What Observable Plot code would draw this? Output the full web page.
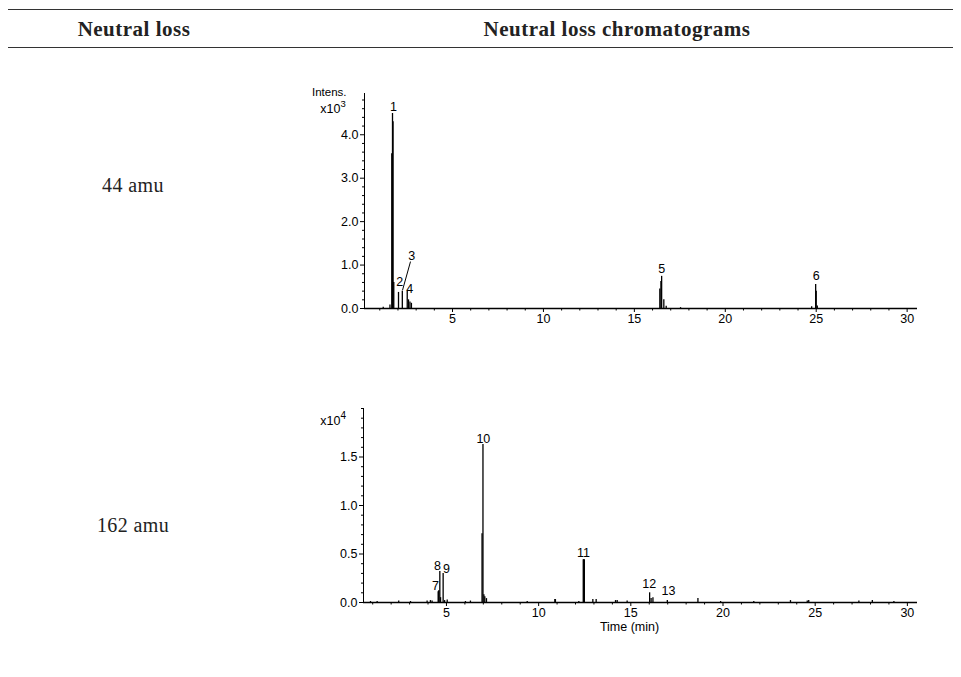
<!DOCTYPE html>
<html><head><meta charset="utf-8">
<script src="https://cdn.jsdelivr.net/npm/d3@7"></script>
<script src="https://cdn.jsdelivr.net/npm/@observablehq/plot@0.6"></script>
<style>
body{margin:0;background:#fff;width:961px;height:677px;position:relative;overflow:hidden;font-family:"Liberation Serif",serif;color:#222}
.rule{position:absolute;left:8px;width:945px;height:0;border-top:1.6px solid #333}
.hdr{position:absolute;font-weight:bold;font-size:21px;letter-spacing:0.5px;transform:translate(-50%,-50%);white-space:nowrap;line-height:1}
.row{position:absolute;font-size:20px;letter-spacing:0.4px;transform:translate(-50%,-50%);white-space:nowrap;line-height:1}
.chart{position:absolute;left:300px}
</style></head><body>
<div class="rule" style="top:9px"></div>
<div class="rule" style="top:46.5px"></div>
<div id="h0" class="hdr" style="left:134px;top:29px"></div>
<div id="h1" class="hdr" style="left:617px;top:29px"></div>
<div id="r0" class="row" style="left:133px;top:185px"></div>
<div id="r1" class="row" style="left:133px;top:525px"></div>
<div id="c0" class="chart" style="top:80px"></div>
<div id="c1" class="chart" style="top:395px"></div>
<script>
// ---------- text ----------
const headers = ["Neutral loss", "Neutral loss chromatograms"];
const rowLabels = ["44 amu", "162 amu"];

// ---------- 44 amu chromatogram (intensity x10^3) ----------
const time44 = [1.19, 1.56, 1.66, 1.70, 1.73, 1.77, 2.03, 2.24, 2.51, 2.58, 2.66, 2.74,
                16.40, 16.46, 16.50, 16.62, 16.75, 17.54, 24.75, 24.97, 25.00, 25.06];
const int44  = [0.03, 0.08, 3.56, 4.49, 4.30, 0.60, 0.37, 0.40, 0.40, 0.20, 0.15, 0.12,
                0.45, 0.62, 0.74, 0.20, 0.05, 0.02, 0.04, 0.55, 0.40, 0.06];
const labels44 = ["1", "2", "3", "4", "5", "6"];
const labelTime44 = [1.75, 2.09, 2.75, 2.64, 16.5, 25.0];
const labelInt44  = [4.65, 0.62, 1.20, 0.46, 0.92, 0.74];
const leaderTime44 = [2.25, 2.69];
const leaderInt44  = [0.42, 1.08];
const yMajor44 = [0, 1, 2, 3, 4];
const yMinor44 = [0.2, 0.4, 0.6, 0.8, 1.2, 1.4, 1.6, 1.8, 2.2, 2.4, 2.6, 2.8, 3.2, 3.4, 3.6, 3.8, 4.2, 4.4, 4.6, 4.8];

// ---------- 162 amu chromatogram (intensity x10^4) ----------
const time162 = [0.88, 1.24, 2.41, 3.05, 3.95, 4.13, 4.22, 4.55, 4.58, 4.64, 4.68, 4.82, 4.90, 5.04,
                 6.03, 6.30, 6.93, 6.98, 7.03, 7.08, 7.17, 9.38, 10.88, 10.91, 12.18, 12.42, 12.45, 12.48,
                 12.94, 13.12, 14.17, 14.26, 14.80, 16.02, 16.10, 16.20, 16.98, 18.64, 19.87, 21.67,
                 23.66, 24.57, 24.65, 27.37, 28.10, 29.27];
const int162  = [0.01, 0.01, 0.015, 0.01, 0.015, 0.02, 0.015, 0.11, 0.12, 0.32, 0.05, 0.30, 0.02, 0.025,
                 0.01, 0.015, 0.71, 1.63, 0.08, 0.06, 0.04, 0.01, 0.03, 0.03, 0.01, 0.44, 0.44, 0.44,
                 0.03, 0.03, 0.02, 0.02, 0.015, 0.10, 0.04, 0.05, 0.02, 0.04, 0.01, 0.01,
                 0.02, 0.015, 0.02, 0.015, 0.02, 0.01];
const labels162 = ["7", "8", "9", "10", "11", "12", "13"];
const labelTime162 = [4.40, 4.51, 5.00, 7.00, 12.43, 16.00, 17.04];
const labelInt162  = [0.17, 0.38, 0.35, 1.69, 0.51, 0.19, 0.12];
const yMajor162 = [0, 0.5, 1.0, 1.5];
const yMinor162 = [0.1, 0.2, 0.3, 0.4, 0.6, 0.7, 0.8, 0.9, 1.1, 1.2, 1.3, 1.4, 1.6, 1.7, 1.8, 1.9, 2.0];

// ---------- shared x ticks ----------
const xMajor = [5, 10, 15, 20, 25, 30];
const xMinor = [1, 2, 3, 4, 6, 7, 8, 9, 11, 12, 13, 14, 16, 17, 18, 19, 21, 22, 23, 24, 26, 27, 28, 29];

document.getElementById("h0").textContent = headers[0];
document.getElementById("h1").textContent = headers[1];
document.getElementById("r0").textContent = rowLabels[0];
document.getElementById("r1").textContent = rowLabels[1];

const fmt = d3.format(".1f");

function chromatogram(o) {
  const peaks = o.time.map((t, i) => ({t, h: o.inten[i]}));
  const labs = o.labels.map((s, i) => ({s, t: o.lt[i], h: o.li[i]}));
  const marks = [
    Plot.ruleY([0], {stroke: "#000", strokeWidth: 1.3}),
    Plot.ruleX([o.xDomain[0]], {stroke: "#000", strokeWidth: 1}),
    Plot.ruleX(peaks, {x: "t", y1: 0, y2: "h", stroke: "#000", strokeWidth: 1.3}),
    Plot.axisX({ticks: xMajor, tickSize: 4, tickPadding: 2, tickFormat: d => String(d), label: null, fontSize: 12.5}),
    Plot.axisX({ticks: xMinor, tickSize: 2.5, tickFormat: () => "", label: null}),
    Plot.axisY({ticks: o.yMajor, tickSize: 4, tickPadding: 2, tickFormat: fmt, label: null, fontSize: 12.5}),
    Plot.axisY({ticks: o.yMinor, tickSize: 2, tickFormat: () => "", label: null}),
    Plot.text(labs, {x: "t", y: "h", text: "s", fontSize: 12.5, fill: "#000", stroke: "none", lineAnchor: "middle"}),
    ...o.extra
  ];
  return Plot.plot({
    width: o.width, height: o.height,
    marginLeft: o.m[3], marginRight: o.m[1], marginTop: o.m[0], marginBottom: o.m[2],
    x: {domain: o.xDomain, label: null},
    y: {domain: o.yDomain, label: null},
    style: {fontFamily: "'Liberation Sans', Arial, sans-serif", fontSize: "12px", color: "#000", background: "transparent", overflow: "visible"},
    marks
  });
}

const leader = [{t1: leaderTime44[0], h1: leaderInt44[0], t2: leaderTime44[1], h2: leaderInt44[1]}];

document.getElementById("c0").append(chromatogram({
  time: time44, inten: int44, labels: labels44, lt: labelTime44, li: labelInt44,
  xDomain: [0.16, 30.57], yDomain: [0, 4.95], yMajor: yMajor44, yMinor: yMinor44,
  width: 640, height: 260, m: [13, 23, 32, 64],
  extra: [
    Plot.link(leader, {x1: "t1", y1: "h1", x2: "t2", y2: "h2", stroke: "#000", strokeWidth: 1}),
    Plot.text(["Intens."], {frameAnchor: "top-left", dx: -18, dy: -6, textAnchor: "end", fontSize: 11.5, fill: "#000"}),
    Plot.text(["x10"], {frameAnchor: "top-left", dx: -24, dy: 11, textAnchor: "end", fontSize: 12.5, fill: "#000"}),
    Plot.text(["3"], {frameAnchor: "top-left", dx: -24, dy: 7, textAnchor: "start", fontSize: 9.5, fill: "#000"})
  ]
}));

document.getElementById("c1").append(chromatogram({
  time: time162, inten: int162, labels: labels162, lt: labelTime162, li: labelInt162,
  xDomain: [0.5, 30.55], yDomain: [0, 2.0], yMajor: yMajor162, yMinor: yMinor162,
  width: 640, height: 250, m: [13, 23, 43, 63],
  extra: [
    Plot.text(["x10"], {frameAnchor: "top-left", dx: -23, dy: 8, textAnchor: "end", fontSize: 12.5, fill: "#000"}),
    Plot.text(["4"], {frameAnchor: "top-left", dx: -23, dy: 3, textAnchor: "start", fontSize: 10, fill: "#000"}),
    Plot.text(["Time (min)"], {frameAnchor: "bottom", dx: -11, dy: 28, fontSize: 12.5, fill: "#000"})
  ]
}));
</script>
</body></html>
